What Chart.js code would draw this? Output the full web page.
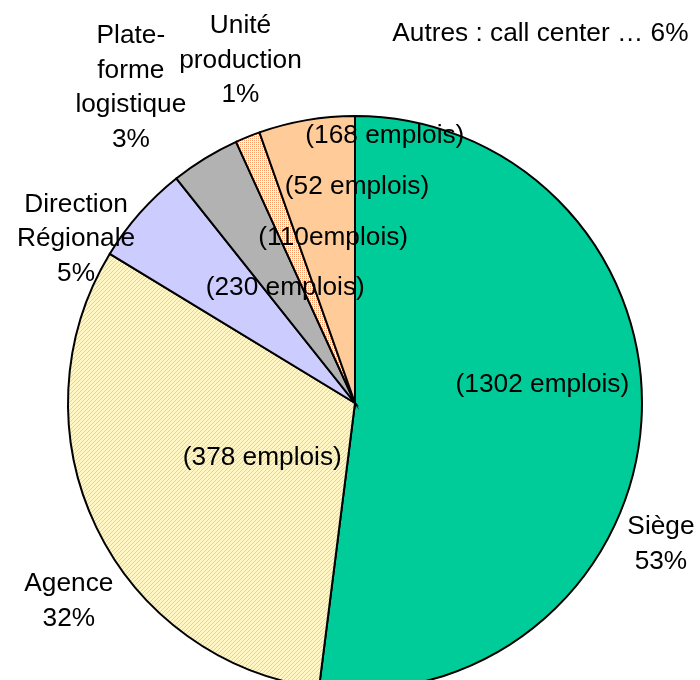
<!DOCTYPE html>
<html>
<head>
<meta charset="utf-8">
<script src="https://cdn.jsdelivr.net/npm/chart.js@4/dist/chart.umd.min.js"></script>
<style>
html,body{margin:0;padding:0;background:#fff;overflow:hidden;width:700px;height:680px;}
#wrap{position:absolute;left:0;top:0;width:710px;height:806px;}
</style>
</head>
<body>
<div id="wrap"><canvas id="c"></canvas></div>
<script>
// ---- data ----
const categories = ["Siège", "Agence", "Direction Régionale", "Plateforme logistique", "Unité production", "Autres : call center …"];
// slice sizes as drawn in the picture (percent of the circle)
const sliceValues = [52.0, 31.7, 5.6, 3.9, 1.4, 5.4];
const percentLabels = ["53%", "32%", "5%", "3%", "1%", "6%"];
const emplois = [1302, 378, 230, 110, 52, 168];
const nameLines = [["Siège"], ["Agence"], ["Direction", "Régionale"], ["Plate-", "forme", "logistique"], ["Unité", "production"], []];
const innerLabels = ["(1302 emplois)", "(378 emplois)", "(230 emplois)", "(110emplois)", "(52 emplois)", "(168 emplois)"];

// ---- label placement (fractions of radius from pie centre) ----
const outerPos = [[1.066, 0.434], [-0.997, 0.632], [-0.972, -0.691], [-0.781, -1.278], [-0.399, -1.3125], [0.646, -1.285]];
const innerPos = [[0.653, -0.0625], [-0.323, 0.191], [-0.243, -0.399], [-0.076, -0.573], [0.007, -0.753], [0.104, -0.931]];

function makePattern(base, ink, kind) {
  const t = document.createElement('canvas');
  t.width = 4; t.height = 4;
  const g = t.getContext('2d');
  g.fillStyle = base; g.fillRect(0, 0, 4, 4);
  g.fillStyle = ink;
  if (kind === 'diag') {
    for (let i = 0; i < 4; i++) g.fillRect((3 - i), i, 1, 1);
  } else {
    g.fillRect(0, 0, 1, 1); g.fillRect(2, 2, 1, 1); g.fillRect(2, 0, 1, 1); g.fillRect(0, 2, 1, 1);
  }
  return g.createPattern(t, 'repeat');
}
const ctx0 = document.getElementById('c').getContext('2d');
const colors = [
  '#00CC99',
  makePattern('#FFF6C4', '#F2D668', 'diag'),
  '#CCCCFF',
  '#B2B2B2',
  makePattern('#FFFFFF', '#FF9966', 'dots'),
  '#FFCC99'
];

function stretchText(ctx, txt, x, y, sx) {
  ctx.save();
  ctx.translate(x, y);
  ctx.scale(sx, 1);
  ctx.fillText(txt, 0, 0);
  ctx.restore();
}

const labelPlugin = {
  id: 'labels',
  afterDatasetsDraw(chart) {
    const meta = chart.getDatasetMeta(0);
    const arc = meta.data[0];
    const cx = arc.x, cy = arc.y, r = arc.outerRadius;
    const ctx = chart.ctx;
    const sx = 1.05;
    ctx.save();
    ctx.fillStyle = '#000';
    ctx.font = '25px "Liberation Sans", Arial, sans-serif';
    ctx.textAlign = 'center';
    ctx.textBaseline = 'middle';
    const lh = 34.5;
    nameLines.forEach((lines, i) => {
      const x = cx + outerPos[i][0] * r, y = cy + outerPos[i][1] * r;
      const all = lines.length === 0 ? [categories[i] + " " + percentLabels[i]] : lines.concat([percentLabels[i]]);
      all.forEach((ln, k) => stretchText(ctx, ln, x, y + k * lh, sx));
    });
    innerLabels.forEach((t, i) => {
      stretchText(ctx, t, cx + innerPos[i][0] * r, cy + innerPos[i][1] * r, sx);
    });
    ctx.restore();
  }
};

new Chart(ctx0, {
  type: 'pie',
  data: {
    labels: categories,
    datasets: [{
      data: sliceValues,
      backgroundColor: colors,
      borderColor: '#000',
      borderWidth: 2,
      borderJoinStyle: 'miter'
    }]
  },
  options: {
    responsive: true,
    maintainAspectRatio: false,
    animation: false,
    layout: { padding: { left: 66, right: 66, top: 115, bottom: 115 } },
    plugins: { legend: { display: false }, tooltip: { enabled: false } }
  },
  plugins: [labelPlugin]
});
</script>
</body>
</html>
